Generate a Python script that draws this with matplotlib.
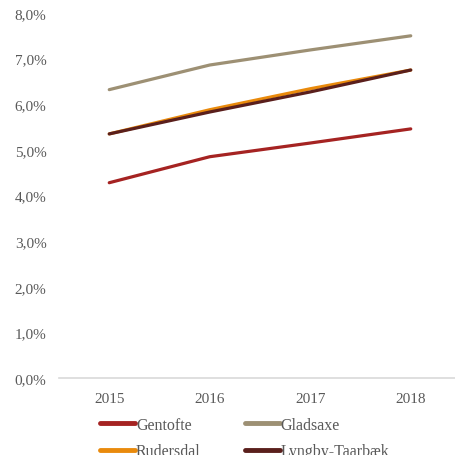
import matplotlib.pyplot as plt
from matplotlib.ticker import FuncFormatter

years = ["2015", "2016", "2017", "2018"]
gentofte = [4.28, 4.85, 5.15, 5.46]
gladsaxe = [6.32, 6.86, 7.19, 7.50]
rudersdal = [5.35, 5.88, 6.34, 6.75]
lyngby = [5.35, 5.83, 6.27, 6.75]

series = [
    ("Gentofte", gentofte, "#a52322"),
    ("Gladsaxe", gladsaxe, "#9d9074"),
    ("Rudersdal", rudersdal, "#e98a0c"),
    ("Lyngby-Taarbæk", lyngby, "#5a1f1c"),
]

plt.rcParams["font.family"] = ["Liberation Serif", "DejaVu Serif"]

fig = plt.figure(figsize=(4.55, 4.56), dpi=100)
ax = fig.add_axes([59 / 455, 1 - 379 / 456, 402 / 455, (379 - 14) / 456])

x = list(range(len(years)))
lines = {}
for name, vals, col in series:
    lines[name], = ax.plot(x, vals, color=col, linewidth=2.3, label=name,
                           solid_capstyle="round")

ax.set_xlim(-0.5, 3.5)
ax.set_ylim(0, 8)
ax.set_yticks(range(0, 9))
ax.yaxis.set_major_formatter(FuncFormatter(lambda v, p: f"{v:.1f}%".replace(".", ",")))
ax.set_xticks(x)
ax.set_xticklabels(years)
ax.tick_params(length=0, labelsize=11, colors="#595959")
ax.tick_params(axis="y", pad=9)
ax.tick_params(axis="x", pad=10)
for s in ["top", "right", "left"]:
    ax.spines[s].set_visible(False)
ax.spines["bottom"].set_color("#d9d9d9")
ax.spines["bottom"].set_linewidth(1.2)

# row-wise order: Gentofte, Gladsaxe / Rudersdal, Lyngby-Taarbæk
order = ["Gentofte", "Rudersdal", "Gladsaxe", "Lyngby-Taarbæk"]
leg = fig.legend([lines[n] for n in order], order,
                 loc="upper left", bbox_to_anchor=(100 / 455, 1 - 418 / 456),
                 ncol=2, frameon=False, fontsize=11.5, handlelength=2.2,
                 handletextpad=0.05, columnspacing=2.75, labelspacing=0.65,
                 borderpad=0, borderaxespad=0)
for h in leg.get_lines():
    h.set_linewidth(3.5)
for t in leg.get_texts():
    t.set_color("#595959")

fig.savefig("out.png", dpi=100)
